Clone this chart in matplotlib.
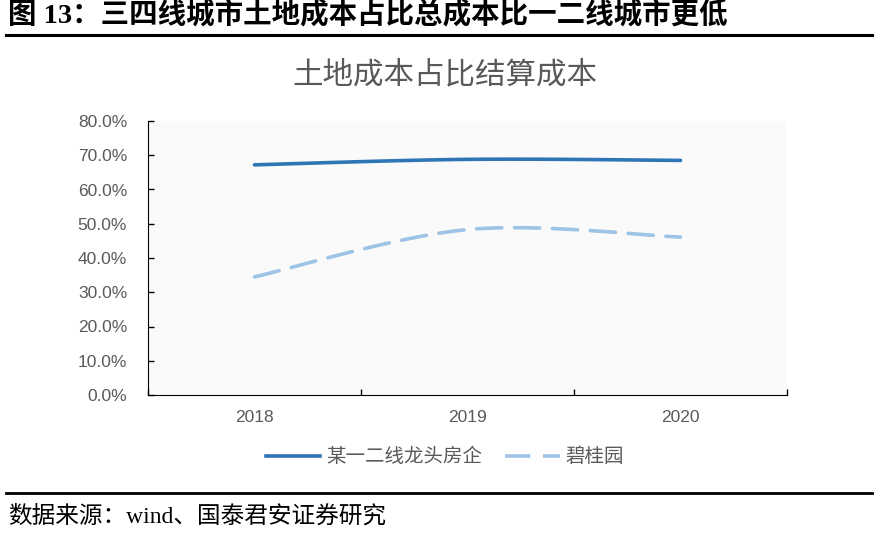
import numpy as np
import matplotlib
matplotlib.use('Agg')
import matplotlib.pyplot as plt
from matplotlib.lines import Line2D

plt.rcParams['font.family'] = ['Noto Sans CJK SC', 'DejaVu Sans']

# data
years = ['2018', '2019', '2020']
top_dev = [67.2, 68.8, 68.5]      # 某一二线龙头房企, %
country_garden = [34.5, 48.3, 46.1]  # 碧桂园, %
yticks = [0, 10, 20, 30, 40, 50, 60, 70, 80]

header = '图 13：三四线城市土地成本占比总成本比一二线城市更低'
chart_title = '土地成本占比结算成本'
source = '数据来源：wind、国泰君安证券研究'
names = ['某一二线龙头房企', '碧桂园']

grey = '#595959'
c_solid = '#2E75B6'
c_dash = '#9DC3E6'


def smooth(y, n=60):
    # excel style smoothed line (cubic bezier, catmull-rom tangents)
    y = np.asarray(y, float)
    x = np.arange(len(y), dtype=float)
    yp = np.concatenate([[y[0]], y, [y[-1]]])
    xp = np.concatenate([[x[0]], x, [x[-1]]])
    xs, ys = [], []
    t = np.linspace(0, 1, n)
    for i in range(len(y) - 1):
        p0 = np.array([x[i], y[i]])
        p3 = np.array([x[i + 1], y[i + 1]])
        p1 = p0 + np.array([xp[i + 2] - xp[i], yp[i + 2] - yp[i]]) / 6
        p2 = p3 - np.array([xp[i + 3] - xp[i + 1], yp[i + 3] - yp[i + 1]]) / 6
        b = ((1 - t) ** 3)[:, None] * p0 + (3 * (1 - t) ** 2 * t)[:, None] * p1 \
            + (3 * (1 - t) * t ** 2)[:, None] * p2 + (t ** 3)[:, None] * p3
        xs.extend(b[:, 0])
        ys.extend(b[:, 1])
    return np.array(xs), np.array(ys)


fig = plt.figure(figsize=(8.77, 5.34), dpi=100)
fig.patch.set_facecolor('white')

# header + rules
fig.text(8 / 877, 1 - 15 / 534, header, fontsize=20.5, fontweight='bold',
         family=['Liberation Serif', 'Noto Sans CJK SC'], va='center', ha='left')
fig.add_artist(Line2D([6 / 877, 872 / 877], [1 - 35 / 534] * 2, color='black', lw=2.2))
fig.add_artist(Line2D([6 / 877, 872 / 877], [1 - 493 / 534] * 2, color='black', lw=2))
fig.text(8 / 877, 1 - 516 / 534, source, fontsize=17,
         family=['Liberation Serif', 'Noto Sans CJK SC'], va='center', ha='left')

ax = fig.add_axes([148 / 877, 1 - 395 / 534, 639 / 877, 274 / 534])
ax.set_facecolor('#FAFAFA')

xs, ys = smooth(top_dev)
ax.plot(xs, ys, color=c_solid, lw=2.6, solid_capstyle='round')
xs, ys = smooth(country_garden)
ax.plot(xs, ys, color=c_dash, lw=2.6, dashes=(7, 3.5), dash_capstyle='round')

ax.set_xlim(-0.5, len(years) - 0.5)
ax.set_ylim(0, 80)
ax.set_yticks(yticks)
ax.set_yticklabels([f'{v:.1f}%' for v in yticks], family='Liberation Sans',
                   fontsize=12.5, color=grey)
ax.set_xticks(np.arange(len(years) + 1) - 0.5)
ax.set_xticklabels([])
ax.set_xticks(np.arange(len(years)), minor=True)
ax.set_xticklabels(years, minor=True, family='Liberation Sans', fontsize=12.5, color=grey)
ax.tick_params(axis='x', which='major', direction='in', length=4, width=1, color='black')
ax.tick_params(axis='x', which='minor', length=0, pad=11)
ax.tick_params(axis='y', direction='in', length=4, width=1, color='black', pad=15)
for s in ['top', 'right']:
    ax.spines[s].set_visible(False)
ax.spines['left'].set_color('black')
ax.spines['bottom'].set_color('black')

fig.text(445 / 877, 1 - 75 / 534, chart_title, fontsize=22, color=grey,
         ha='center', va='center')

handles = [Line2D([], [], color=c_solid, lw=2.6),
           Line2D([], [], color=c_dash, lw=2.6, dashes=(7, 3.5))]
leg = fig.legend(handles, names, loc='center', bbox_to_anchor=(445 / 877, 1 - 457 / 534),
                 ncol=2, frameon=False, fontsize=14, handlelength=2.8,
                 handletextpad=0.3, columnspacing=1.2)
for t in leg.get_texts():
    t.set_color(grey)

fig.savefig('out.png', dpi=100)
